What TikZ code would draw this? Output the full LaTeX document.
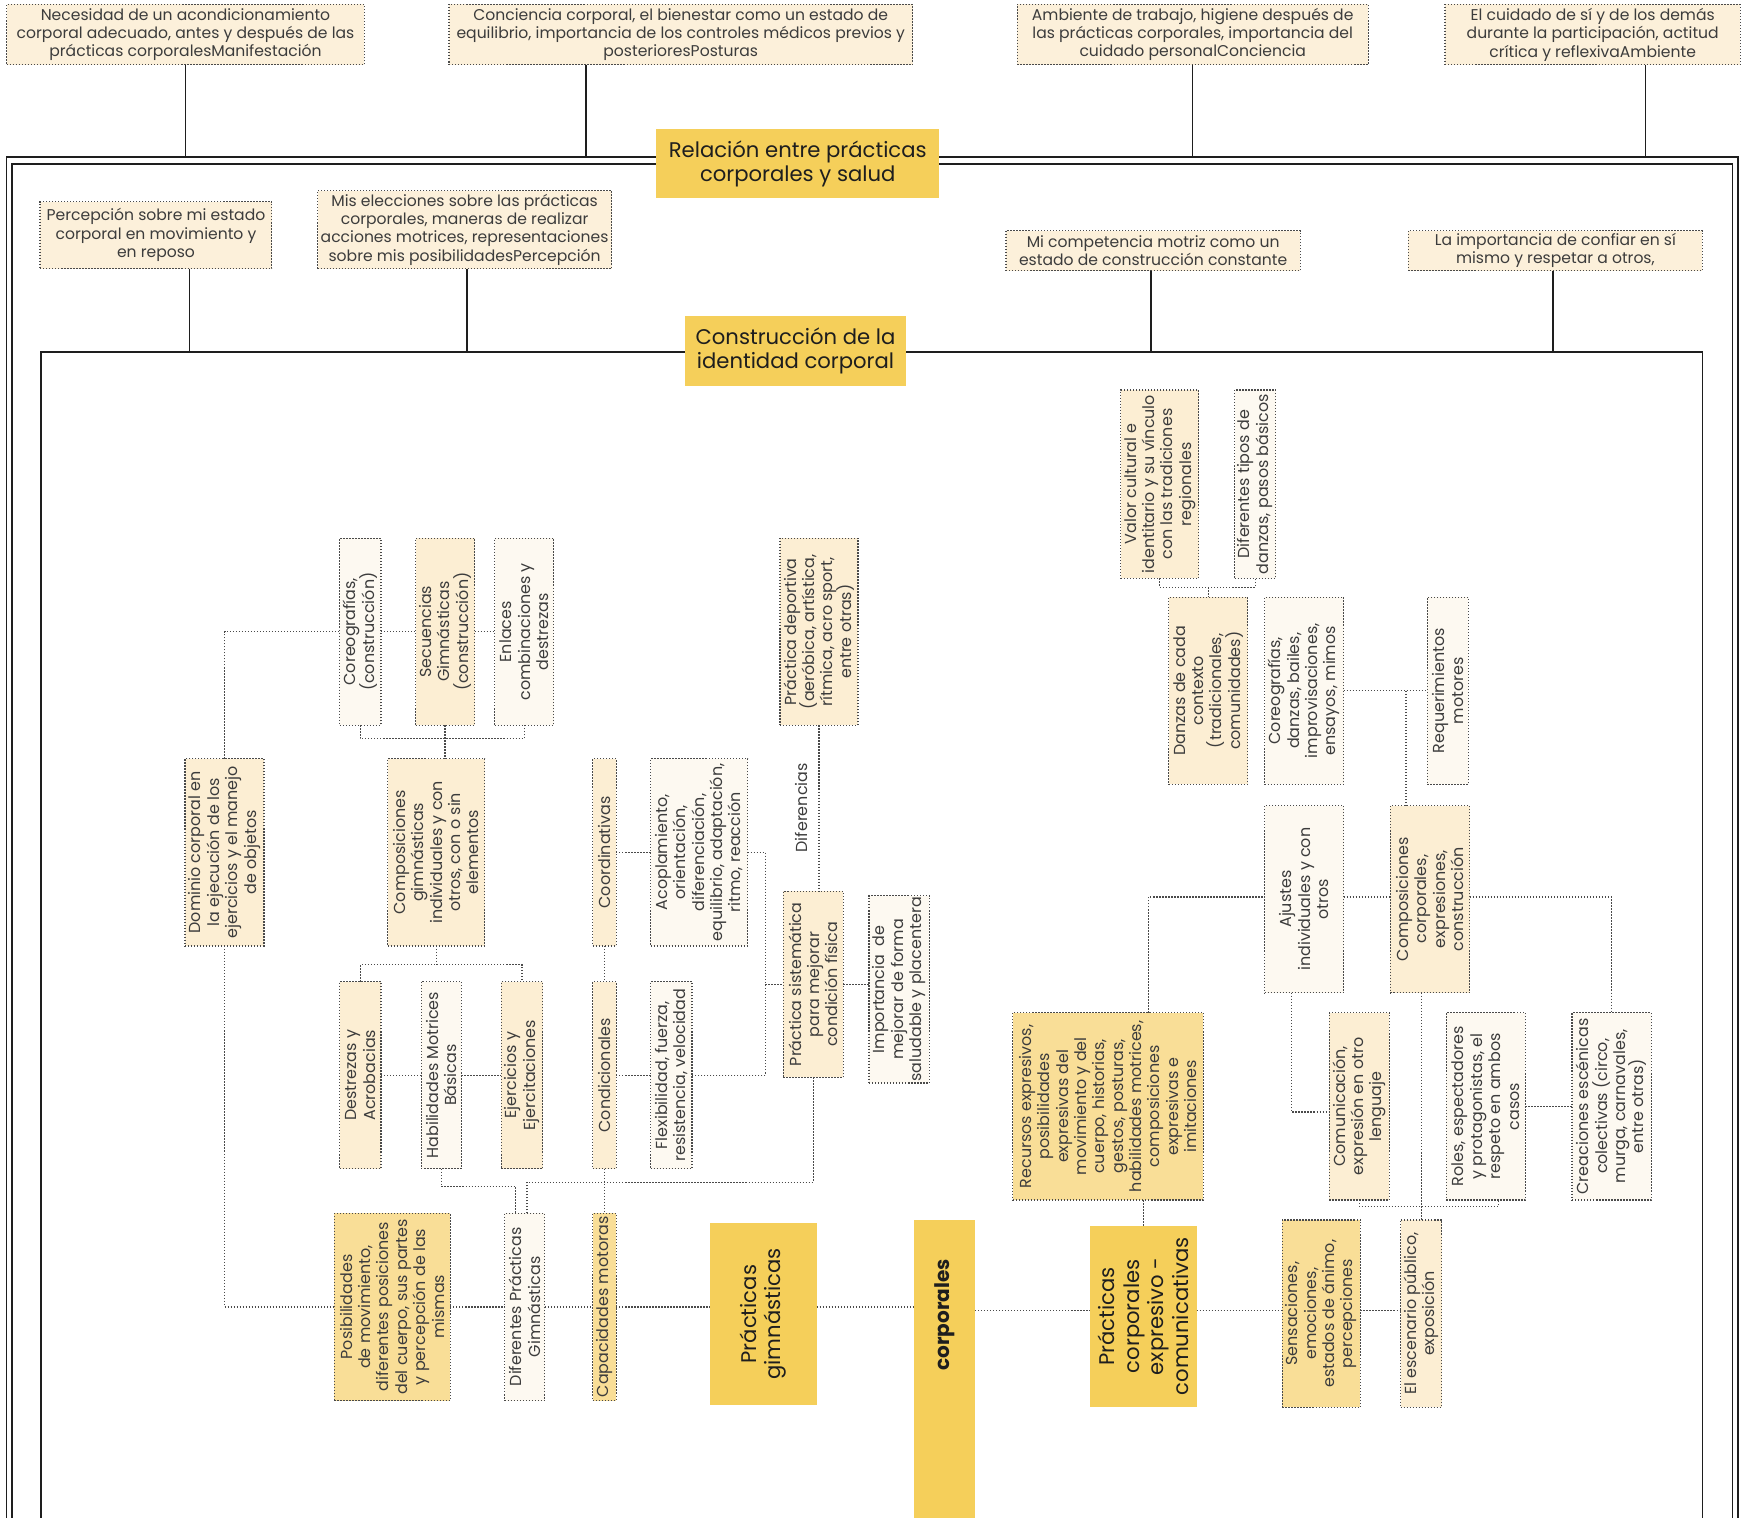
\documentclass[tikz,border=0pt]{standalone}
\usepackage{fontspec}
\setmainfont{Poppins}
\usepackage{graphicx}
\definecolor{cTop}{HTML}{FCF0DA}
\definecolor{cPale}{HTML}{FDF9F1}
\definecolor{cBeige}{HTML}{FCEED3}
\definecolor{cSoft}{HTML}{F9DE97}
\definecolor{cMain}{HTML}{F5CF5A}
\definecolor{cTxt}{HTML}{3C3C3C}
\definecolor{cDot}{HTML}{4A4A4A}
\definecolor{cLine}{HTML}{1E1E1E}
\newcommand{\vbx}[7]{%
  \node[#6, minimum width={(#4-#2)*1pt}, minimum height={(#5-#3)*1pt}]
    (#1) at ({(#2+#4)/2},{(#3+#5)/2})
    {\rotatebox{90}{\parbox{\dimexpr #5pt-#3pt\relax}{\centering\lineskiplimit=-30pt #7\par}}};}
\newcommand{\hbx}[7]{%
  \node[#6, minimum width={(#4-#2)*1pt}, minimum height={(#5-#3)*1pt}]
    (#1) at ({(#2+#4)/2},{(#3+#5)/2})
    {\parbox{\dimexpr #4pt-#2pt\relax}{\centering\lineskiplimit=-30pt #7\par}};}
\tikzset{
  cbox/.style={draw=cDot, dash pattern=on 1.2pt off 1.5pt, line width=1.1pt, inner sep=0pt, outer sep=0pt, text=cTxt, font=\fontsize{14.3}{16.5}\selectfont},
  pale/.style={cbox, fill=cPale},
  beige/.style={cbox, fill=cBeige},
  soft/.style={cbox, fill=cSoft},
  topb/.style={cbox, fill=cTop, font=\fontsize{14}{16.5}\selectfont},
  mainb/.style={fill=cMain, inner sep=0pt, outer sep=0pt, text=cLine, font=\fontsize{19}{22}\selectfont},
  lbl/.style={inner sep=0pt, text=cTxt, font=\fontsize{14.3}{16.5}\selectfont},
  dlink/.style={draw=cDot, dash pattern=on 1.2pt off 1.5pt, line width=1.1pt},
  sline/.style={draw=cLine, line width=1.2pt},
  fline/.style={draw=cLine, line width=1.4pt},
}
\begin{document}
\begin{tikzpicture}[x=1pt, y=-1pt]
\useasboundingbox (0,0) rectangle (1568,1362);
% frames
\draw[fline] (6,1380) -- (6,141) -- (1560,141) -- (1560,1380);
\draw[fline] (11,1380) -- (11,147) -- (1555,147) -- (1555,1380);
\draw[fline] (37,1380) -- (37,316) -- (1528,316) -- (1528,1380);

% top row
\hbx{t1}{6}{4}{327}{58}{topb}{Necesidad de un acondicionamiento\\corporal adecuado, antes y después de las\\prácticas corporalesManifestación}
\hbx{t2}{403}{4}{819}{58}{topb}{Conciencia corporal, el bienestar como un estado de\\equilibrio, importancia de los controles médicos previos y\\posterioresPosturas}
\hbx{t3}{913}{4}{1228}{58}{topb}{Ambiente de trabajo, higiene después de\\las prácticas corporales, importancia del\\cuidado personalConciencia}
\hbx{t4}{1297}{4}{1562}{58}{topb}{El cuidado de sí y de los demás\\durante la participación, actitud\\crítica y reflexivaAmbiente}
% second row
\hbx{s1}{36}{181}{244}{241}{topb}{Percepción sobre mi estado\\corporal en movimiento y\\en reposo}
\hbx{s2}{285}{171}{549}{241}{topb}{Mis elecciones sobre las prácticas\\corporales, maneras de realizar\\acciones motrices, representaciones\\sobre mis posibilidadesPercepción}
\hbx{s3}{903}{207}{1167}{243}{topb}{Mi competencia motriz como un\\estado de construcción constante}
\hbx{s4}{1264}{207}{1528}{243}{topb}{La importancia de confiar en sí\\mismo y respetar a otros,}
% titles
\hbx{rel}{589}{116}{843}{178}{mainb}{Relación entre prácticas\\corporales y salud}
\hbx{con}{615}{284}{813}{346}{mainb}{Construcción de la\\identidad corporal}

% stems
\coordinate (ft) at (0,141);
\coordinate (k2) at (526,141);
\coordinate (k4) at (1477,141);
\coordinate (k5) at (170,316);
\coordinate (k6) at (419,316);
\coordinate (k7) at (1033,316);
\coordinate (k8) at (1394,316);
\draw[sline] (t1.south) -- (t1.south |- ft);
\draw[sline] (t2.south -| k2) -- (k2);
\draw[sline] (t3.south) -- (t3.south |- ft);
\draw[sline] (t4.south -| k4) -- (k4);
\draw[sline] (s1.south -| k5) -- (k5);
\draw[sline] (s2.south -| k6) -- (k6);
\draw[sline] (s3.south -| k7) -- (k7);
\draw[sline] (s4.south -| k8) -- (k8);

% left cluster
\vbx{cor1}{305}{483}{342}{651}{pale}{Coreografías,\\(construcción)}
\vbx{sec}{373}{483}{426}{651}{beige}{Secuencias\\Gimnásticas\\(construcción)}
\vbx{enl}{444}{483}{497}{651}{pale}{Enlaces\\combinaciones y\\destrezas}
\vbx{dom}{166}{681}{237}{849}{beige}{Dominio corporal en\\la ejecución de los\\ejercicios y el manejo\\de objetos}
\vbx{comp}{348}{681}{435}{849}{beige}{Composiciones\\gimnásticas\\individuales y con\\otros, con o sin\\elementos}
\vbx{des}{305}{881}{342}{1049}{beige}{Destrezas y\\Acrobacias}
\vbx{hab}{378}{881}{414}{1049}{pale}{Habilidades Motrices\\Básicas}
\vbx{eje}{450}{881}{487}{1049}{beige}{Ejercicios y\\Ejercitaciones}
\vbx{coord}{532}{681}{553}{849}{beige}{Coordinativas}
\vbx{acop}{584}{681}{671}{849}{pale}{Acoplamiento,\\orientación,\\diferenciación,\\equilibrio, adaptación,\\ritmo, reacción}
\vbx{cond}{532}{881}{553}{1049}{beige}{Condicionales}
\vbx{flex}{584}{881}{621}{1049}{pale}{Flexibilidad, fuerza,\\resistencia, velocidad}
\vbx{pdep}{700}{483}{770}{651}{beige}{Práctica deportiva\\(aeróbica, artística,\\rítmica, acro sport,\\entre otras)}
\vbx{psis}{703}{800}{757}{967}{beige}{Práctica sistemática\\para mejorar\\condición física}
\vbx{imp}{780}{804}{834}{972}{pale}{Importancia~ de\\mejorar de forma\\saludable y placentera}
\node[lbl, rotate=90] (difl) at (719,725) {Diferencias};
\vbx{pos}{300}{1089}{404}{1257}{soft}{Posibilidades\\de movimiento,\\diferentes posiciones\\del cuerpo, sus partes\\y percepción de las\\mismas}
\vbx{dif}{453}{1089}{489}{1257}{pale}{Diferentes Prácticas\\Gimnásticas}
\vbx{capm}{532}{1089}{553}{1257}{soft}{Capacidades motoras}
\vbx{pgim}{637}{1098}{733}{1261}{mainb}{Prácticas\\gimnásticas}
\vbx{corp}{820}{1095}{875}{1265}{mainb, font=\fontsize{18}{22}\selectfont\bfseries}{corporales}
\fill[cMain] (corp.south west) rectangle ([yshift=-120pt]corp.south east);
\vbx{pce}{978}{1100}{1074}{1263}{mainb}{Prácticas\\corporales\\expresivo -\\comunicativas}
\vbx{sens}{1151}{1095}{1221}{1263}{soft}{Sensaciones,\\emociones,\\estados de ánimo,\\percepciones}
\vbx{esc}{1257}{1095}{1294}{1263}{beige}{El escenario público,\\exposición}

% right cluster
\vbx{val}{1006}{350}{1076}{519}{beige}{Valor cultural e\\identitario y su vínculo\\con las tradiciones\\regionales}
\vbx{dtip}{1108}{350}{1145}{519}{pale}{Diferentes tipos de\\danzas, pasos básicos}
\vbx{dan}{1049}{536}{1120}{704}{beige}{Danzas de cada\\contexto\\(tradicionales,\\comunidades)}
\vbx{crb}{1135}{536}{1206}{704}{pale}{Coreografías,\\danzas, bailes,\\improvisaciones,\\ensayos, mimos}
\vbx{req}{1281}{536}{1318}{704}{pale}{Requerimientos\\motores}
\vbx{aju}{1135}{723}{1206}{891}{pale}{Ajustes\\individuales y con\\otros}
\vbx{cmpc}{1248}{723}{1319}{891}{beige}{Composiciones\\corporales,\\expresiones,\\construcción}
\vbx{rec}{909}{909}{1080}{1077}{soft}{Recursos expresivos,\\posibilidades\\expresivas del\\movimiento y del\\cuerpo, historias,\\gestos, posturas,\\habilidades motrices,\\composiciones\\expresivas e\\imitaciones}
\vbx{com}{1193}{909}{1247}{1077}{beige}{Comunicación,\\expresión en otro\\lenguaje}
\vbx{rol}{1298}{909}{1369}{1077}{pale}{Roles, espectadores\\y protagonistas, el\\respeto en ambos\\casos}
\vbx{cre}{1411}{909}{1482}{1077}{pale}{Creaciones escénicas\\colectivas (circo,\\murga, carnavales,\\entre otras)}

% left cluster links
\draw[dlink] (dom.north) |- (cor1.west);
\draw[dlink] (cor1.east) -- (sec.west);
\draw[dlink] (sec.east) -- (enl.west);
\coordinate (b1) at (0,663);
\draw[dlink] (cor1.south) -- (cor1.south |- b1) -- (enl.south |- b1) -- (enl.south);
\draw[dlink] (sec.south) -- (sec.south |- comp.north);
\coordinate (b2) at (0,866);
\draw[dlink] (comp.south) -- (comp.south |- b2);
\draw[dlink] (des.north) -- (des.north |- b2) -- (eje.north |- b2) -- (eje.north);
\draw[dlink] (des.east) -- (hab.west);
\draw[dlink] (hab.east) -- (eje.west);
\coordinate (d1) at (463,1065);
\draw[dlink] (hab.south) |- (d1) -- (d1 |- dif.north);
\coordinate (d2) at (473,1061);
\draw[dlink] (d2 |- dif.north) -- (d2) -| (psis.south);
\draw[dlink] (coord.south) -- (cond.north);
\draw[dlink] (cond.south) -- (capm.north);
\draw[dlink] (coord.east) -- (acop.west);
\draw[dlink] (cond.east) -- (flex.west);
\coordinate (v1) at (687,0);
\draw[dlink] (acop.east) -| (v1 |- flex.east) -- (flex.east);
\draw[dlink] (v1 |- psis.west) -- (psis.west);
\draw[dlink] (psis.east) -- (psis.east -| imp.west);
\draw[dlink] (pdep.south) -- (pdep.south |- psis.north);
% main line
\coordinate (hl) at (0,1173);
\coordinate (hr) at (0,1176);
\draw[dlink] (dom.south) |- (pos.west);
\draw[dlink] (pos.east) -- (dif.west);
\draw[dlink] (dif.east) -- (capm.west);
\draw[dlink] (capm.east) -- (capm.east -| pgim.west);
\draw[dlink] (pgim.east |- hl) -- (corp.west |- hl);
\draw[dlink] (corp.east |- hr) -- (pce.west |- hr);
\draw[dlink] (pce.east |- hr) -- (sens.west |- hr);
\draw[dlink] (sens.east |- hr) -- (esc.west |- hr);
% right cluster links
\coordinate (b3) at (0,527);
\draw[dlink] (val.south) -- (val.south |- b3) -- (dtip.south |- b3) -- (dtip.south);
\draw[dlink] (dan.north |- b3) -- (dan.north);
\draw[dlink] (crb.east) -- (req.west);
\coordinate (j3) at (1262,620);
\draw[dlink] (j3) -- (j3 |- cmpc.north);
\coordinate (j4) at (1031,805);
\draw[dlink] (j4 |- rec.north) -- (j4) -- (j4 -| aju.west);
\draw[dlink] (aju.east |- j4) -- (cmpc.west |- j4);
\draw[dlink] (cmpc.east |- j4) -| (cre.north);
\draw[dlink] (pce.north) -- (pce.north |- rec.south);
\coordinate (j5) at (1159,998);
\draw[dlink] (j5 |- aju.south) -- (j5) -- (j5 -| com.west);
\draw[dlink] (rol.east) -- (cre.west);
\coordinate (b5) at (0,1083);
\coordinate (j6) at (1345,1083);
\draw[dlink] (com.south) -- (com.south |- b5) -- (j6) -- (j6 |- rol.south);
\coordinate (j7) at (1276,0);
\draw[dlink] (j7 |- cmpc.south) -- (j7 |- esc.north);
\end{tikzpicture}
\end{document}
